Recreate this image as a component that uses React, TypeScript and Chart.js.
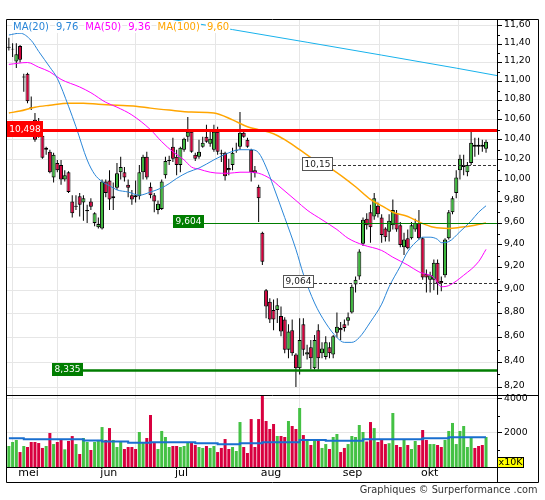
import React, { useEffect, useRef } from 'react';
import { Chart, registerables } from 'chart.js';

Chart.register(...registerables);

// ---------- data (one entry per trading day) ----------
const opens = [11.36, 11.34, 11.21, 11.38, 11.04, 11.08, 10.73, 10.60, 10.55, 10.44,
  10.30, 10.28, 10.03, 10.17, 10.15, 10.01, 10.08, 9.80, 9.75, 9.85,
  9.79, 9.71, 9.80, 9.60, 9.56, 9.55, 9.99, 10.00, 9.83, 9.93,
  10.08, 10.08, 9.96, 9.86, 9.86, 9.85, 10.08, 10.23, 9.94, 9.86,
  9.72, 9.73, 10.05, 10.19, 10.33, 10.23, 10.15, 10.30, 10.43, 10.48,
  10.25, 10.23, 10.33, 10.43, 10.36, 10.30, 10.48, 10.27, 10.27, 10.12,
  10.15, 10.29, 10.33, 10.47, 10.40, 10.30, 10.10, 9.94, 9.51, 9.00,
  8.90, 8.83, 8.83, 8.78, 8.75, 8.50, 8.66, 8.46, 8.35, 8.71,
  8.46, 8.52, 8.35, 8.66, 8.47, 8.44, 8.52, 8.46, 8.64, 8.68,
  8.71, 8.74, 8.81, 9.05, 9.12, 9.41, 9.64, 9.70, 9.66, 9.76,
  9.65, 9.55, 9.52, 9.58, 9.69, 9.58, 9.38, 9.46, 9.46, 9.54,
  9.60, 9.46, 9.14, 9.09, 9.09, 9.24, 9.08, 9.13, 9.46, 9.70,
  9.88, 10.10, 10.13, 10.08, 10.17, 10.35, 10.35, 10.35, 10.31];

const highs = [11.47, 11.41, 11.41, 11.39, 11.08, 11.09, 10.84, 10.67, 10.62, 10.46,
  10.33, 10.30, 10.27, 10.20, 10.20, 10.10, 10.09, 9.86, 9.86, 9.88,
  9.86, 9.77, 9.83, 9.70, 9.65, 10.01, 10.01, 10.10, 9.98, 10.17,
  10.23, 10.13, 10.01, 9.91, 10.00, 10.15, 10.25, 10.28, 9.98, 9.88,
  9.81, 10.01, 10.23, 10.24, 10.42, 10.30, 10.33, 10.42, 10.63, 10.50,
  10.27, 10.40, 10.43, 10.55, 10.48, 10.55, 10.53, 10.30, 10.28, 10.21,
  10.32, 10.37, 10.68, 10.48, 10.42, 10.31, 10.14, 9.96, 9.52, 9.01,
  8.93, 8.92, 8.93, 8.86, 8.77, 8.71, 8.75, 8.47, 8.76, 8.76,
  8.54, 8.58, 8.62, 8.71, 8.56, 8.61, 8.56, 8.62, 8.81, 8.73,
  8.75, 8.81, 9.05, 9.12, 9.36, 9.65, 9.69, 9.77, 9.88, 9.79,
  9.68, 9.56, 9.68, 9.82, 9.72, 9.61, 9.51, 9.54, 9.61, 9.64,
  9.72, 9.47, 9.18, 9.16, 9.27, 9.27, 9.12, 9.46, 9.72, 9.85,
  10.10, 10.25, 10.25, 10.18, 10.48, 10.42, 10.42, 10.40, 10.40];

const lows = [11.33, 11.26, 11.14, 11.20, 10.89, 10.77, 10.70, 10.38, 10.42, 10.21,
  10.25, 10.07, 9.98, 10.08, 9.96, 9.99, 9.88, 9.65, 9.72, 9.66,
  9.62, 9.60, 9.72, 9.57, 9.55, 9.54, 9.84, 9.72, 9.72, 9.91,
  10.01, 9.99, 9.84, 9.77, 9.79, 9.82, 10.01, 10.01, 9.83, 9.70,
  9.68, 9.72, 10.02, 10.15, 10.18, 10.05, 10.08, 10.28, 10.38, 10.27,
  10.19, 10.21, 10.32, 10.37, 10.33, 10.28, 10.25, 10.18, 10.00, 10.05,
  10.10, 10.27, 10.30, 10.42, 10.32, 9.99, 10.03, 9.61, 9.22, 8.76,
  8.72, 8.66, 8.72, 8.61, 8.47, 8.43, 8.45, 8.20, 8.30, 8.45,
  8.42, 8.34, 8.34, 8.34, 8.43, 8.42, 8.43, 8.43, 8.60, 8.58,
  8.65, 8.70, 8.80, 8.98, 9.09, 9.39, 9.54, 9.42, 9.63, 9.65,
  9.42, 9.43, 9.43, 9.54, 9.52, 9.38, 9.31, 9.36, 9.45, 9.52,
  9.45, 9.09, 8.98, 8.98, 9.00, 8.96, 8.99, 9.11, 9.45, 9.68,
  9.83, 10.01, 10.05, 10.04, 10.15, 10.23, 10.25, 10.28, 10.27];

const closes = [11.37, 11.35, 11.29, 11.23, 11.05, 10.79, 10.72, 10.40, 10.44, 10.22,
  10.32, 10.08, 10.25, 10.10, 10.01, 10.05, 9.89, 9.69, 9.76, 9.77,
  9.83, 9.72, 9.75, 9.69, 9.59, 9.99, 9.88, 9.82, 9.85, 10.07,
  10.13, 10.03, 9.93, 9.82, 9.84, 10.08, 10.23, 10.03, 9.86, 9.80,
  9.78, 9.99, 10.19, 10.20, 10.21, 10.15, 10.32, 10.41, 10.48, 10.28,
  10.21, 10.28, 10.37, 10.38, 10.41, 10.48, 10.28, 10.26, 10.04, 10.10,
  10.27, 10.30, 10.47, 10.43, 10.33, 10.08, 10.07, 9.83, 9.25, 8.86,
  8.75, 8.75, 8.87, 8.65, 8.50, 8.65, 8.47, 8.35, 8.58, 8.50,
  8.48, 8.43, 8.58, 8.43, 8.51, 8.56, 8.47, 8.61, 8.69, 8.66,
  8.68, 8.77, 9.03, 9.09, 9.34, 9.63, 9.58, 9.56, 9.83, 9.68,
  9.49, 9.47, 9.62, 9.72, 9.54, 9.40, 9.45, 9.37, 9.58, 9.60,
  9.46, 9.11, 9.11, 9.13, 9.24, 9.06, 9.06, 9.45, 9.70, 9.83,
  10.03, 10.21, 10.15, 10.15, 10.37, 10.33, 10.33, 10.33, 10.38];

// volume, in units of 10K
const volumes = [1235, 1470, 1590, 880, 1235, 1175, 1470, 1470, 1410, 1120,
  1235, 2000, 1350, 1470, 1590, 1040, 1530, 1820, 1350, 765,
  1705, 1470, 1000, 1470, 1590, 2350, 1590, 2290, 1590, 1175,
  1470, 1060, 1175, 1175, 1060, 2060, 1410, 1705, 3060, 1410,
  1060, 2120, 1765, 1175, 1235, 1235, 1175, 1235, 1470, 1470,
  1295, 1175, 1120, 1235, 1120, 1235, 880, 1120, 1645, 1060,
  1175, 940, 2645, 1175, 825, 2820, 1175, 2820, 4195, 2705,
  2235, 2530, 1825, 1825, 1765, 2705, 2410, 2235, 3470, 1880,
  1645, 1295, 1645, 1590, 1120, 1350, 1060, 1765, 1940, 880,
  1120, 1350, 1825, 1765, 2470, 2060, 1500, 2645, 2290, 1470,
  1590, 1350, 1400, 3175, 1295, 1175, 1645, 1295, 1060, 1530,
  1295, 2175, 1590, 1350, 1350, 1295, 1175, 1590, 2120, 2590,
  1350, 2120, 2410, 1175, 1765, 1120, 1235, 1295, 1765];

// moving averages (day index -> value)
const ma20Idx = [0, 3, 6, 8, 11, 13, 16, 18, 21, 23, 25, 27, 29, 32, 35, 38, 41, 43, 45, 48, 51, 55, 59, 62, 65, 67, 69, 71, 74, 77, 79, 82, 85, 88, 90, 92, 94, 97, 100, 102, 105, 107, 110, 111, 113, 115, 116, 118, 121, 124, 126, 128];
const ma20Val = [11.50, 11.52, 11.44, 11.32, 11.15, 11.03, 10.74, 10.53, 10.20, 10.06, 9.99, 9.95, 9.91, 9.89, 9.86, 9.89, 9.93, 9.97, 10.02, 10.08, 10.12, 10.20, 10.27, 10.30, 10.30, 10.27, 10.13, 9.94, 9.65, 9.36, 9.14, 8.89, 8.72, 8.60, 8.56, 8.56, 8.60, 8.73, 8.88, 9.03, 9.21, 9.34, 9.45, 9.47, 9.47, 9.45, 9.42, 9.43, 9.52, 9.62, 9.70, 9.76];

const ma50Idx = [0, 5, 8, 11, 14, 19, 22, 26, 29, 33, 38, 41, 44, 47, 49, 51, 54, 57, 59, 62, 65, 67, 70, 73, 77, 80, 84, 88, 91, 95, 100, 103, 107, 110, 114, 116, 118, 122, 126, 128];
const ma50Val = [11.18, 11.20, 11.15, 11.10, 11.02, 10.94, 10.88, 10.78, 10.73, 10.65, 10.50, 10.38, 10.28, 10.20, 10.13, 10.11, 10.08, 10.07, 10.07, 10.08, 10.08, 10.07, 10.02, 9.93, 9.81, 9.72, 9.63, 9.54, 9.46, 9.40, 9.35, 9.29, 9.22, 9.16, 9.11, 9.03, 9.04, 9.13, 9.25, 9.36];

const ma100Idx = [0, 3, 7, 11, 16, 20, 24, 29, 34, 38, 43, 49, 55, 60, 64, 67, 71, 74, 78, 82, 87, 93, 97, 101, 103, 107, 110, 114, 118, 121, 125, 128];
const ma100Val = [10.67, 10.69, 10.73, 10.75, 10.77, 10.77, 10.76, 10.75, 10.74, 10.72, 10.70, 10.68, 10.67, 10.60, 10.53, 10.50, 10.46, 10.40, 10.30, 10.20, 10.10, 9.94, 9.82, 9.74, 9.70, 9.66, 9.61, 9.56, 9.55, 9.56, 9.58, 9.60];

const longIdx = [40, 60, 80, 100, 120, 131];
const longVal = [11.70, 11.56, 11.42, 11.28, 11.14, 11.06];

const volAvgIdx = [0, 4, 20, 25, 32, 38, 50, 56, 62, 68, 78, 85, 95, 111, 118, 128];
const volAvgVal = [1690, 1630, 1560, 1500, 1420, 1450, 1400, 1340, 1400, 1460, 1590, 1550, 1630, 1690, 1750, 1750];

// axes
const monthTickIdx = [0, 2, 24, 44, 67, 89, 110];
const monthLabels = ['', 'mei', 'jun', 'jul', 'aug', 'sep', 'okt'];
const priceTicks = [8.2, 8.4, 8.6, 8.8, 9.0, 9.2, 9.4, 9.6, 9.8, 10.0, 10.2, 10.4, 10.6, 10.8, 11.0, 11.2, 11.4, 11.6];
const priceMinorTicks = [8.3, 8.5, 8.7, 8.9, 9.1, 9.3, 9.5, 9.7, 9.9, 10.1, 10.3, 10.5, 10.7, 10.9, 11.1, 11.3, 11.5];
const volTicks = [2000, 4000];
const volMinorTicks = [1000, 3000];

// levels
const levelValues = [10.498, 9.604, 8.335, 10.15, 9.064];
const levelTexts = ['10,498', '9,604', '8,335', '10,15', '9,064'];
const legendTexts = ['MA(20)', '9,76', 'MA(50)', '9,36', 'MA(100)', '9,60'];

// ---------- styling / layout ----------
const FONT = 'DejaVu Sans';
const UP = '#3cb83c';
const DOWN = '#d3003c';
const VUP = '#44c144';
const VDOWN = '#d8003f';
const C20 = '#2a86d8';
const C50 = '#ff00ff';
const C100 = '#ffa500';
const CLONG = '#18b2ec';
const LEGEND_COLORS = [C20, C20, C50, C50, C100, C100];
const LEVEL_ANCHOR = [-0.5, 44, 11.65, 78.7, 73.6];
const LEVEL_STYLE = [
  { line: '#ff0000', width: 3, dash: [] as number[], fill: '#ff0000', text: '#ffffff', border: '', h: 16, full: true },
  { line: '#007d00', width: 1, dash: [] as number[], fill: '#007d00', text: '#ffffff', border: '', h: 13, full: false },
  { line: '#007d00', width: 2.5, dash: [] as number[], fill: '#007d00', text: '#ffffff', border: '', h: 13, full: false },
  { line: '#333333', width: 1, dash: [3, 2], fill: '#ffffff', text: '#222222', border: '#555555', h: 14, full: false },
  { line: '#333333', width: 1, dash: [3, 2], fill: '#ffffff', text: '#222222', border: '#555555', h: 13, full: false },
];

export default function App() {
  const ref = useRef<HTMLCanvasElement>(null);

  useEffect(() => {
    const canvas = ref.current;
    if (!canvas) return;
    const idx = closes.map((_, i) => i);
    const up = idx.map((i) => closes[i] >= opens[i]);
    const pts = (xs: number[], ys: number[]) => xs.map((x, k) => ({ x, y: ys[k] }));

    const deco = {
      id: 'deco',
      afterDatasetsDraw(chart: any) {
        const { ctx, chartArea: ca, scales } = chart;
        const xs = scales.x;
        const ys = scales.y;
        ctx.save();
        ctx.beginPath();
        ctx.rect(ca.left, ca.top, ca.right - ca.left, ys.bottom - ca.top);
        ctx.clip();
        ctx.font = `9px "${FONT}"`;
        levelValues.forEach((v, k) => {
          const st = LEVEL_STYLE[k];
          const y = ys.getPixelForValue(v);
          const x0 = Math.max(ca.left, Math.round(xs.getPixelForValue(LEVEL_ANCHOR[k])));
          const tw = ctx.measureText(levelTexts[k]).width;
          const bw = Math.round(tw + 5);
          ctx.beginPath();
          ctx.setLineDash(st.dash);
          ctx.strokeStyle = st.line;
          ctx.lineWidth = st.width;
          const yl = Math.round(y) + (Math.round(st.width) % 2 === 1 ? 0.5 : 0);
          ctx.moveTo(st.full ? ca.left : x0 + bw, yl);
          ctx.lineTo(ca.right, yl);
          ctx.stroke();
          ctx.setLineDash([]);
          const by = Math.round(y - 1 - st.h / 2);
          ctx.fillStyle = st.fill;
          ctx.fillRect(x0, by, bw, st.h);
          if (st.border) {
            ctx.strokeStyle = st.border;
            ctx.lineWidth = 1;
            ctx.strokeRect(x0 + 0.5, by + 0.5, bw - 1, st.h - 1);
          }
          ctx.fillStyle = st.text;
          ctx.textAlign = 'center';
          ctx.textBaseline = 'middle';
          ctx.fillText(levelTexts[k], x0 + bw / 2, by + st.h / 2 + 0.5);
        });
        // legend
        ctx.font = `10px "${FONT}"`;
        ctx.textAlign = 'left';
        ctx.textBaseline = 'alphabetic';
        let lx = 13;
        legendTexts.forEach((t, k) => {
          const w = ctx.measureText(t).width;
          ctx.fillStyle = '#ffffff';
          ctx.fillRect(lx - 1, 21, w + 2, 12);
          ctx.fillStyle = LEGEND_COLORS[k];
          ctx.fillText(t, lx, 30);
          lx += w + 7;
        });
        ctx.restore();
      },
      afterDraw(chart: any) {
        const { ctx, chartArea: ca, scales } = chart;
        const ys = scales.y;
        const yv = scales.yVol;
        const xs = scales.x;
        ctx.save();
        ctx.strokeStyle = '#000';
        ctx.lineWidth = 1;
        ctx.beginPath();
        const L = ca.left - 0.5, T = ca.top - 0.5, R = ca.right + 0.5;
        const RR = ys.right + 0.5, B = ca.bottom + 0.5, BB = xs.bottom + 0.5;
        const S = Math.round(yv.top) + 0.5;
        ctx.rect(L, T, RR - L, BB - T);
        ctx.moveTo(R, T); ctx.lineTo(R, BB);
        ctx.moveTo(L, S); ctx.lineTo(RR, S);
        ctx.moveTo(L, B); ctx.lineTo(R, B);
        priceMinorTicks.forEach((v) => {
          const y = Math.round(ys.getPixelForValue(v)) + 0.5;
          ctx.moveTo(ca.right, y); ctx.lineTo(ca.right + 3, y);
        });
        volMinorTicks.forEach((v) => {
          const y = Math.round(yv.getPixelForValue(v)) + 0.5;
          ctx.moveTo(ca.right, y); ctx.lineTo(ca.right + 3, y);
        });
        ctx.stroke();
        // x10K box
        ctx.fillStyle = '#ffff00';
        ctx.fillRect(R, ca.bottom - 9.5, 26, 10);
        ctx.strokeRect(R, ca.bottom - 9.5, 26, 10);
        ctx.fillStyle = '#000';
        ctx.font = `9.5px "${FONT}"`;
        ctx.textAlign = 'center';
        ctx.textBaseline = 'middle';
        ctx.fillText('x10K', R + 13, ca.bottom - 4.2);
        // footer
        ctx.font = `9.75px "${FONT}"`;
        ctx.textAlign = 'right';
        ctx.textBaseline = 'alphabetic';
        ctx.fillStyle = '#333';
        ctx.fillText('Graphiques \u00a9 Surperformance .com', RR - 1, 493);
        ctx.restore();
      },
    };

    const axisFont = { family: FONT, size: 9.3 };
    const chart = new Chart(canvas, {
      type: 'bar',
      data: {
        datasets: [
          {
            type: 'bar', label: 'wick', yAxisID: 'y', xAxisID: 'x',
            data: idx.map((i) => ({ x: i, y: [lows[i], highs[i]] })) as any,
            backgroundColor: '#000', barThickness: 1, grouped: false, inflateAmount: 0, order: 6,
          },
          {
            type: 'bar', label: 'body', yAxisID: 'y', xAxisID: 'x',
            data: idx.map((i) => ({ x: i, y: [opens[i], closes[i]] })) as any,
            backgroundColor: up.map((u) => (u ? UP : DOWN)), borderColor: '#000', borderWidth: 1,
            borderSkipped: false, barThickness: 4, grouped: false, inflateAmount: 0, order: 5,
          },
          {
            type: 'bar', label: 'vol', yAxisID: 'yVol', xAxisID: 'x',
            data: idx.map((i) => ({ x: i, y: volumes[i] })) as any,
            backgroundColor: up.map((u) => (u ? VUP : VDOWN)), barThickness: 3, grouped: false,
            inflateAmount: 0, order: 5,
          },
          {
            type: 'line', label: 'volAvg', yAxisID: 'yVol', xAxisID: 'x',
            data: pts(volAvgIdx, volAvgVal) as any, borderColor: '#1a6fcf', borderWidth: 2,
            pointRadius: 0, stepped: 'before', order: 2,
          },
          {
            type: 'line', label: 'MA(100)', yAxisID: 'y', xAxisID: 'x',
            data: pts(ma100Idx, ma100Val) as any, borderColor: C100, borderWidth: 1.5,
            pointRadius: 0, cubicInterpolationMode: 'monotone', order: 3,
          },
          {
            type: 'line', label: 'MA(50)', yAxisID: 'y', xAxisID: 'x',
            data: pts(ma50Idx, ma50Val) as any, borderColor: C50, borderWidth: 1,
            pointRadius: 0, cubicInterpolationMode: 'monotone', order: 2,
          },
          {
            type: 'line', label: 'MA(20)', yAxisID: 'y', xAxisID: 'x',
            data: pts(ma20Idx, ma20Val) as any, borderColor: C20, borderWidth: 1,
            pointRadius: 0, cubicInterpolationMode: 'monotone', order: 1,
          },
          {
            type: 'line', label: 'long', yAxisID: 'y', xAxisID: 'x',
            data: pts(longIdx, longVal) as any, borderColor: CLONG, borderWidth: 1,
            pointRadius: 0, cubicInterpolationMode: 'monotone', order: 1,
          },
        ],
      },
      options: {
        responsive: false,
        animation: false,
        events: [],
        layout: { padding: { left: 7, right: 7, top: 20, bottom: 18 } },
        plugins: { legend: { display: false }, tooltip: { enabled: false }, title: { display: false } },
        scales: {
          x: {
            type: 'linear', position: 'bottom', min: -0.5, max: 130.94, offset: false,
            afterBuildTicks: (s: any) => { s.ticks = monthTickIdx.map((v) => ({ value: v })); },
            afterFit: (s: any) => { s.height = 15; },
            grid: { color: '#e6e6e6', drawTicks: false, lineWidth: 1 },
            border: { display: false },
            ticks: {
              autoSkip: false, maxRotation: 0, minRotation: 0, align: 'start', labelOffset: 2, padding: 0,
              color: '#000', font: { family: FONT, size: 11 },
              callback: (_v: any, i: number) => monthLabels[i] ?? '',
            },
          },
          y: {
            type: 'logarithmic', position: 'right', stack: 'panes', stackWeight: 375, offset: false,
            min: 8.138, max: 11.667, bounds: 'data',
            afterBuildTicks: (s: any) => { s.ticks = priceTicks.map((v) => ({ value: v })); },
            afterFit: (s: any) => { s.width = 41; },
            grid: { color: '#e6e6e6', tickColor: '#000', tickLength: 5, drawTicks: true, lineWidth: 1 },
            border: { display: false },
            ticks: {
              autoSkip: false, padding: 2, labelOffset: -1.5, color: '#000', font: axisFont,
              callback: (v: any) => Number(v).toFixed(2).replace('.', ','),
            },
          },
          yVol: {
            type: 'linear', position: 'right', stack: 'panes', stackWeight: 72, offset: false,
            min: 0, max: 4235,
            afterBuildTicks: (s: any) => { s.ticks = volTicks.map((v) => ({ value: v })); },
            afterFit: (s: any) => { s.width = 41; },
            grid: { color: '#e6e6e6', tickColor: '#000', tickLength: 5, drawTicks: true, lineWidth: 1 },
            border: { display: false },
            ticks: {
              autoSkip: false, padding: 2, labelOffset: 0, color: '#000', font: axisFont,
              callback: (v: any) => String(v),
            },
          },
        } as any,
      },
      plugins: [deco],
    } as any);
    return () => chart.destroy();
  }, []);

  return (
    <div style={{ position: 'absolute', left: 0, top: 0, width: 545, height: 500, background: '#fff' }}>
      <canvas ref={ref} width={545} height={500} style={{ width: 545, height: 500, display: 'block' }} />
    </div>
  );
}
